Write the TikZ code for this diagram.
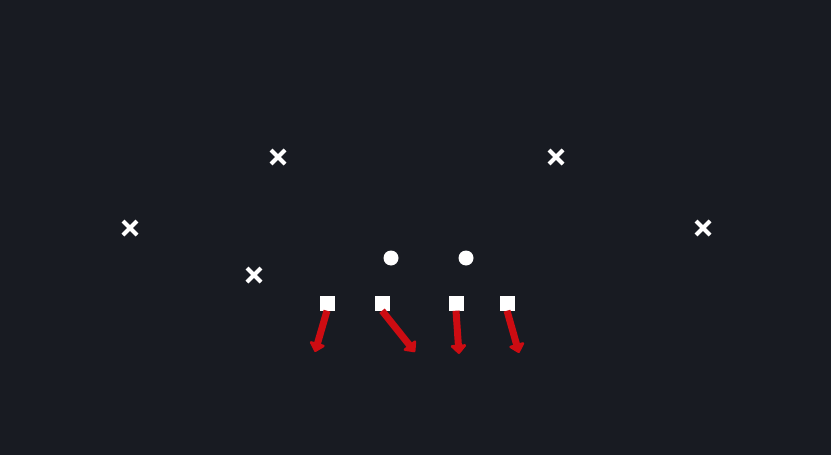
\documentclass[tikz,border=0pt]{standalone}
\usetikzlibrary{arrows.meta,positioning,shapes.misc}
\definecolor{field}{RGB}{24,27,34}
\definecolor{blockred}{RGB}{205,12,18}

\tikzset{
	defender/.style={cross out, draw=white, line width=4pt, minimum size=10pt, inner sep=0pt},
	back/.style={circle, fill=white, minimum size=15pt, inner sep=0pt},
	lineman/.style={rectangle, fill=white, minimum size=15pt, inner sep=0pt},
	block/.style={draw=blockred, line width=7pt, -{Triangle[round, length=10pt, width=18pt]}},
}

\begin{document}
\begin{tikzpicture}[x=1pt, y=-1pt]
	\fill[field] (0,0) rectangle (831,455);
	\useasboundingbox (0,0) rectangle (831,455);

	\node[defender] (d1) at (278,157) {};
	\node[defender] (d2) at (556,157) {};
	\node[defender] (d3) at (130,228) {};
	\node[defender] (d4) at (703,228) {};
	\node[defender] (d5) at (254,275) {};

	\node[back] (b1) at (391,258) {};
	\node[back] (b2) at (466,258) {};

	\node[lineman] (l1) at (327,303) {};
	\node[lineman] (l2) at (382,303) {};
	\node[lineman] (l3) at (456,303) {};
	\node[lineman] (l4) at (507,303) {};

	\coordinate (e1) at (315,352);
	\coordinate (e2) at (415,352);
	\coordinate (e3) at (459,354);
	\coordinate (e4) at (519,353);

	\draw[block] (l1.south) -- (e1);
	\draw[block] (l2.south) -- (e2);
	\draw[block] (l3.south) -- (e3);
	\draw[block] (l4.south) -- (e4);
\end{tikzpicture}
\end{document}
